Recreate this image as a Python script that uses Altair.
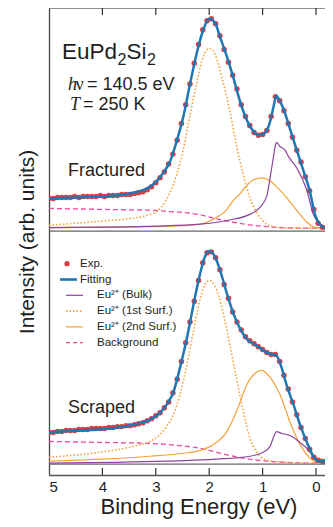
import altair as alt
import pandas as pd

# ---------------- data (arbitrary intensity units) ----------------
exp_ev = [5.00, 4.92, 4.84, 4.76, 4.68, 4.60, 4.52, 4.44, 4.36, 4.28, 4.20, 4.12, 4.04, 3.96,
          3.88, 3.80, 3.72, 3.64, 3.56, 3.48, 3.40, 3.32, 3.24, 3.16, 3.08, 3.00, 2.92, 2.84,
          2.76, 2.68, 2.60, 2.52, 2.44, 2.36, 2.28, 2.20, 2.12, 2.04, 1.96, 1.88, 1.80, 1.72,
          1.64, 1.56, 1.48, 1.40, 1.32, 1.24, 1.16, 1.08, 1.00, 0.92, 0.84, 0.76, 0.68, 0.60,
          0.52, 0.44, 0.36, 0.28, 0.20, 0.12, 0.04, -0.04, -0.12, -0.20, -0.28]

# Fractured (upper panel)
fr_exp_i = [30, 30, 31, 31, 31, 31, 32, 31, 32, 32, 32, 32, 33, 32,
            33, 33, 33, 34, 34, 34, 35, 36, 37, 39, 42, 46, 51, 57,
            65, 75, 89, 106, 125, 146, 167, 186, 201, 210, 212, 207, 195, 181,
            168, 155, 141, 125, 113, 104, 97, 94, 95, 99, 113, 133, 129, 119,
            106, 92, 79, 67, 52, 38, 19, 5, 1, 0, 0]
fr_fit_ev = [5.0, 4.5, 4.05, 3.6, 3.42, 3.17, 2.98, 2.86, 2.73, 2.61, 2.48, 2.36, 2.23, 2.11,
             2.0, 1.89, 1.80, 1.67, 1.55, 1.42, 1.30, 1.17, 1.05, 0.95, 0.86, 0.80, 0.74,
             0.70, 0.61, 0.49, 0.36, 0.24, 0.11, 0.02, -0.07, -0.17, -0.32]
fr_fit_i = [30, 31, 32, 34, 36, 40, 48, 56, 68, 88, 114, 146, 178, 201,
            212, 208, 194, 174, 153, 128, 110, 98, 94, 97, 108, 122, 134,
            131, 121, 101, 79, 59, 36, 14, 4, 0.5, 0]
fr_bulk_ev = [5.0, 4.0, 3.0, 2.17, 1.55, 1.24, 1.05, 0.92, 0.86, 0.80, 0.76, 0.74, 0.68,
              0.58, 0.52, 0.36, 0.17, 0.05, -0.11, -0.2, -0.32]
fr_bulk_i = [0.5, 1, 2, 4, 9, 14, 21, 33, 51, 71, 84, 87, 83,
             79, 73, 61, 38, 14, 3, 0.5, 0]
fr_s1_ev = [5.0, 4.5, 4.05, 3.6, 3.17, 2.98, 2.80, 2.61, 2.48, 2.36, 2.23, 2.11, 2.0, 1.89,
            1.77, 1.61, 1.49, 1.36, 1.24, 1.11, 0.92, 0.74, 0.5, -0.32]
fr_s1_i = [3, 5, 7, 9, 13, 17, 29, 54, 81, 114, 148, 174, 182, 176,
           154, 118, 84, 54, 31, 16, 4, 1, 0, 0]
fr_s2_ev = [5.0, 4.0, 3.0, 2.5, 2.17, 1.86, 1.70, 1.55, 1.42, 1.30, 1.17, 1.02, 0.86, 0.72,
            0.55, 0.42, 0.30, 0.17, 0.05, -0.1, -0.32]
fr_s2_i = [0.5, 1, 1.5, 2.5, 4, 11, 17, 28, 35, 43, 49, 51, 48, 41,
           31, 22, 14, 6, 1.5, 0, 0]
fr_bg_ev = [5.0, 4.0, 3.0, 2.8, 2.5, 2.17, 1.86, 1.55, 1.24, 0.92, 0.6, 0.2, -0.32]
fr_bg_i = [20, 19, 18, 17, 16, 13.5, 9.5, 6, 3.3, 1.5, 0.5, 0, 0]

# Scraped (lower panel)
sc_exp_i = [31, 31, 32, 32, 33, 33, 33, 34, 34, 34, 35, 35, 35, 35,
            36, 36, 37, 37, 38, 38, 39, 40, 41, 43, 45, 48, 51, 56,
            62, 71, 85, 103, 122, 143, 164, 185, 203, 213, 214, 208, 196, 181,
            167, 153, 143, 135, 128, 124, 121, 118, 115, 112, 110, 110, 103, 89,
            75, 62, 49, 36, 25, 14, 6, 3, 2, 2, 2]
sc_fit_ev = [5.0, 4.5, 4.05, 3.42, 3.11, 2.92, 2.80, 2.67, 2.55, 2.42, 2.30, 2.17, 2.08, 2.00,
             1.89, 1.80, 1.67, 1.55, 1.42, 1.30, 1.11, 0.92, 0.80, 0.74, 0.69, 0.64, 0.55,
             0.42, 0.30, 0.17, 0.05, -0.04, -0.2, -0.32]
sc_fit_i = [31, 33, 34, 39, 44, 51, 59, 72, 96, 126, 159, 192, 209, 215,
            209, 196, 172, 152, 136, 126, 119, 112, 110, 109, 104, 96, 79,
            59, 39, 21, 7, 2, 2, 2]
sc_bulk_ev = [5.0, 2.8, 1.86, 1.24, 0.99, 0.86, 0.79, 0.74, 0.64, 0.55, 0.42, 0.30, 0.17,
              0.05, -0.07, -0.2, -0.32]
sc_bulk_i = [0, 2, 4, 7, 11, 17, 27, 32, 30, 29, 26, 21, 15,
             7, 2, 0, 0]
sc_s1_ev = [5.0, 4.05, 3.42, 3.11, 2.92, 2.80, 2.67, 2.55, 2.42, 2.30, 2.17, 2.08, 2.0, 1.89,
            1.77, 1.61, 1.49, 1.36, 1.24, 1.11, 0.92, 0.61, 0.3, -0.32]
sc_s1_i = [6, 11, 17, 22, 29, 37, 49, 69, 99, 132, 166, 181, 185, 179,
           159, 119, 86, 52, 26, 11, 3, 1, 0, 0]
sc_s2_ev = [5.0, 4.05, 3.11, 2.48, 2.17, 1.92, 1.67, 1.49, 1.30, 1.14, 1.02, 0.86, 0.67,
            0.49, 0.30, 0.11, -0.01, -0.15, -0.32]
sc_s2_i = [2, 4, 7, 10, 13, 19, 32, 52, 79, 91, 94, 87, 69,
           42, 19, 5, 1, 0, 0]
sc_bg_ev = [5.0, 4.05, 3.11, 2.61, 2.17, 1.86, 1.55, 1.24, 0.92, 0.61, -0.01, -0.32]
sc_bg_i = [22, 21, 20, 18, 15, 11, 7, 4, 2, 1, 0, 0]

tick_values = [5, 4, 3, 2, 1, 0]
legend_labels = ["Exp.", "Fitting", "Eu\u00b2\u207a (Bulk)", "Eu\u00b2\u207a (1st Surf.)",
                 "Eu\u00b2\u207a (2nd Surf.)", "Background"]

# ---------------- layout constants ----------------
W, H = 276, 467              # plot area (pixels); whole svg is 317 x 511
X_RIGHT = 5 - W / 53.4       # keep 53.4 px per eV, as in the figure
YMAX = 473                   # y-scale span in intensity units
TOP_OFF, BOT_OFF = 250, 12   # vertical offsets of the two stacked spectra
K = H / YMAX
RED, BLUE, ORANGE, PURPLE, PINK = "#d42a30", "#1f77b4", "#f4a23a", "#8a459f", "#ea4b9c"
TXT = "#231f20"
SANS, SERIF = "Liberation Sans", "Liberation Serif"


def frame(ev, vals, panel, off):
    return pd.DataFrame({"eV": ev, "y": [v + off for v in vals], "panel": panel})


def both(ev_a, a, ev_b, b):
    return pd.concat([frame(ev_a, a, "fr", TOP_OFF), frame(ev_b, b, "sc", BOT_OFF)])


xs = alt.Scale(domain=[5, X_RIGHT], nice=False, zero=False)
ys = alt.Scale(domain=[0, YMAX], nice=False, zero=False)
xaxis = alt.Axis(values=tick_values, format="d", labelFontSize=15, labelColor=TXT,
                 labelPadding=16, labelBaseline="alphabetic", ticks=False, tickSize=0,
                 domainColor="#555555", domainWidth=1.3, grid=False,
                 title="Binding Energy (eV)", titleFontSize=22, titleFontWeight="normal",
                 titleColor=TXT, titleX=149.5, titleY=38.5, titleBaseline="alphabetic")
yaxis = alt.Axis(labels=False, ticks=False, tickSize=0, domainColor="#444444",
                 domainWidth=1.3, grid=False, title="Intensity (arb. units)",
                 titleFontSize=21, titleFontWeight="normal", titleColor=TXT,
                 titleX=-16, titleY=H / 2, titleBaseline="alphabetic")
X = alt.X("eV:Q", scale=xs, axis=xaxis)
Y = alt.Y("y:Q", scale=ys, axis=yaxis)


def line(df, color, width, dash=None):
    kw = dict(color=color, strokeWidth=width, interpolate="monotone", clip=True)
    if dash:
        kw["strokeDash"] = dash
    return alt.Chart(df).mark_line(**kw).encode(x=X, y=Y, detail="panel:N")


bg = line(both(fr_bg_ev, fr_bg_i, sc_bg_ev, sc_bg_i), PINK, 1.3, [5, 3])
s1 = line(both(fr_s1_ev, fr_s1_i, sc_s1_ev, sc_s1_i), ORANGE, 1.6, [1.5, 2])
s2 = line(both(fr_s2_ev, fr_s2_i, sc_s2_ev, sc_s2_i), ORANGE, 1.2)
bulk = line(both(fr_bulk_ev, fr_bulk_i, sc_bulk_ev, sc_bulk_i), PURPLE, 1.2)
dots = alt.Chart(both(exp_ev, fr_exp_i, exp_ev, sc_exp_i)).mark_circle(
    color=RED, size=30, opacity=0.9, clip=True).encode(x=X, y=Y)
fit = line(both(fr_fit_ev, fr_fit_i, sc_fit_ev, sc_fit_i), BLUE, 2.5)

# frame lines and inward ticks
top_line = alt.Chart(pd.DataFrame({"y": [YMAX]})).mark_rule(color="#222222", strokeWidth=1.2).encode(y=Y)
zero_lines = alt.Chart(pd.DataFrame({"y": [TOP_OFF - 3, BOT_OFF - 1]})).mark_rule(
    color="#666666", strokeWidth=1.3).encode(y=Y)
tdf = pd.DataFrame({"eV": tick_values[1:]})
top_ticks = alt.Chart(tdf).mark_rule(color="#333333", strokeWidth=1.2).encode(
    x=X, y=alt.value(0), y2=alt.value(7))
bot_ticks = alt.Chart(tdf).mark_rule(color="#333333", strokeWidth=1.2).encode(
    x=X, y=alt.value(H - 7), y2=alt.value(H))

one = pd.DataFrame({"k": [0]})


def txt(text, x, y, size, font=SANS, style="normal", baseline="alphabetic"):
    return alt.Chart(one).mark_text(text=text, align="left", baseline=baseline, fontSize=size,
                                    font=font, fontStyle=style, color=TXT).encode(
        x=alt.value(x), y=alt.value(y * K))


notes = [
    txt("EuPd", 13, 52, 22.5),
    txt("2", 68.5, 58, 16),
    txt("Si", 77.5, 52, 22.5),
    txt("2", 98, 58, 16),
    txt("h", 19, 83, 18, SERIF, "italic"),
    txt("\u03bd", 26.5, 83, 18, SERIF),
    txt("= 140.5 eV", 38, 83, 18),
    txt("T", 21, 103, 18, SERIF, "italic"),
    txt("= 250 K", 34, 103, 18),
    txt("Fractured", 19, 170, 18),
    txt("Scraped", 19, 410, 18),
]

# manual legend
ly = [259, 275, 291, 307, 323, 339]
leg = [
    alt.Chart(one).mark_circle(color=RED, size=28, opacity=0.9).encode(x=alt.value(18), y=alt.value(ly[0] * K)),
    alt.Chart(one).mark_rule(color=BLUE, strokeWidth=2.6).encode(x=alt.value(11), x2=alt.value(28), y=alt.value(ly[1] * K)),
    alt.Chart(one).mark_rule(color=PURPLE, strokeWidth=1.2).encode(x=alt.value(17), x2=alt.value(34), y=alt.value(ly[2] * K)),
    alt.Chart(one).mark_rule(color=ORANGE, strokeWidth=1.6, strokeDash=[1.5, 2]).encode(x=alt.value(17), x2=alt.value(34), y=alt.value(ly[3] * K)),
    alt.Chart(one).mark_rule(color=ORANGE, strokeWidth=1.2).encode(x=alt.value(17), x2=alt.value(34), y=alt.value(ly[4] * K)),
    alt.Chart(one).mark_rule(color=PINK, strokeWidth=1.3, strokeDash=[4, 3]).encode(x=alt.value(17), x2=alt.value(34), y=alt.value(ly[5] * K)),
]
for i, lab in enumerate(legend_labels):
    leg.append(txt(lab, 31 if i < 2 else 48, ly[i], 11.5, baseline="middle"))

chart = alt.layer(
    zero_lines, bg, s1, s2, bulk, dots, fit, top_line, top_ticks, bot_ticks, *notes, *leg
).properties(
    width=W, height=H,
    autosize=alt.AutoSizeParams(type="none"),
    padding={"left": 41, "top": 0, "right": 0, "bottom": 44},
).configure(font=SANS).configure_view(stroke=None)

chart.save("out.html", embed_options={"renderer": "svg", "actions": False})
